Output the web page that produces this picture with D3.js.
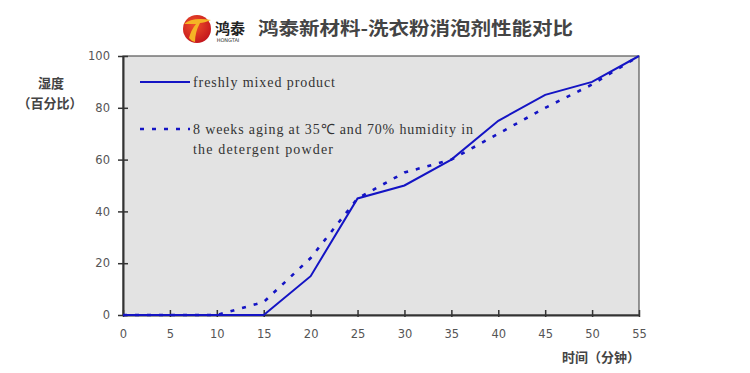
<!DOCTYPE html>
<html><head><meta charset="utf-8">
<script src="https://cdn.jsdelivr.net/npm/d3@7"></script>
<style>body{margin:0;background:#fff;}svg{display:block;}</style>
</head><body>
<svg id="c" width="750" height="373"></svg>
<script>
const title = "鸿泰新材料-洗衣粉消泡剂性能对比";
const brandName = "鸿泰";
const brandSub = "HONGTAI";
const yTitle1 = "湿度";
const yTitle2 = "（百分比）";
const xTitle = "时间（分钟）";
const xTicks = [0, 5, 10, 15, 20, 25, 30, 35, 40, 45, 50, 55];
const yTicks = [0, 20, 40, 60, 80, 100];
const times = [0, 5, 10, 15, 20, 25, 30, 35, 40, 45, 50, 55];
const freshValues = [0, 0, 0, 0, 15, 45, 50, 60, 75, 85, 90, 100];
const agedValues = [0, 0, 0, 5, 22, 45, 55, 60, 70, 80, 89, 100];
const legendFresh = ["freshly mixed product"];
const legendAged = ["8 weeks aging at 35℃ and 70% humidity in", "the detergent powder"];

const svg = d3.select("#c");
const L = 123, R = 639, T = 56, B = 315;
const x = d3.scaleLinear().domain([0, 55]).range([L, R]);
const y = d3.scaleLinear().domain([0, 100]).range([B, T]);

// plot background
svg.append("rect").attr("x", L).attr("y", T).attr("width", R - L).attr("height", B - T)
  .attr("fill", "#e3e3e3").attr("stroke", "#555").attr("stroke-width", 1.2);

// axes
const xa = svg.append("g").attr("transform", `translate(0,${B})`)
  .call(d3.axisBottom(x).tickValues(xTicks).tickSize(0).tickPadding(15));
xa.select(".domain").attr("stroke", "#333").attr("stroke-width", 2);
xa.selectAll(".tick").append("line").attr("y1", -5).attr("y2", 2).attr("stroke", "#333").attr("stroke-width", 1.5);
xa.selectAll("text").attr("font-family", "DejaVu Sans").attr("font-size", 11.5).attr("fill", "#555");

const ya = svg.append("g").attr("transform", `translate(${L},0)`)
  .call(d3.axisLeft(y).tickValues(yTicks).tickSize(0).tickPadding(13));
ya.select(".domain").attr("stroke", "#333").attr("stroke-width", 2);
ya.selectAll(".tick").append("line").attr("x1", -5).attr("x2", 5).attr("stroke", "#333").attr("stroke-width", 1.5);
ya.selectAll("text").attr("font-family", "DejaVu Sans").attr("font-size", 11.5).attr("fill", "#555");

// lines
const blue = "#1414c4";
const line = d3.line().x(d => x(d[0])).y(d => y(d[1]));
svg.append("path").datum(times.map((t, i) => [t, agedValues[i]]))
  .attr("d", line).attr("fill", "none").attr("stroke", blue).attr("stroke-width", 2.6)
  .attr("stroke-dasharray", "4,8");
svg.append("path").datum(times.map((t, i) => [t, freshValues[i]]))
  .attr("d", line).attr("fill", "none").attr("stroke", blue).attr("stroke-width", 2);

// legend
const legendFont = {family: "Liberation Serif", size: 14, color: "#333"};
svg.append("line").attr("x1", 140).attr("x2", 190).attr("y1", 82).attr("y2", 82)
  .attr("stroke", blue).attr("stroke-width", 2);
svg.append("text").attr("x", 193).attr("y", 87).text(legendFresh[0])
  .attr("font-family", legendFont.family).attr("font-size", legendFont.size).attr("fill", legendFont.color)
  .attr("textLength", 142).attr("lengthAdjust", "spacing");
svg.append("line").attr("x1", 140).attr("x2", 190).attr("y1", 129).attr("y2", 129)
  .attr("stroke", blue).attr("stroke-width", 2.6).attr("stroke-dasharray", "4,8");
const agedLens = [280, 140];
legendAged.forEach((s, i) => svg.append("text").attr("x", 193).attr("y", 134 + i * 20).text(s)
  .attr("font-family", legendFont.family).attr("font-size", legendFont.size).attr("fill", legendFont.color)
  .attr("textLength", agedLens[i]).attr("lengthAdjust", "spacing"));

// axis titles
svg.append("text").attr("x", 51).attr("y", 88).attr("text-anchor", "middle").text(yTitle1)
  .attr("font-family", "Noto Sans CJK SC").attr("font-weight", "bold").attr("font-size", 13).attr("fill", "#444");
svg.append("text").attr("x", 50).attr("y", 108).attr("text-anchor", "middle").text(yTitle2)
  .attr("font-family", "Noto Sans CJK SC").attr("font-weight", "bold").attr("font-size", 13).attr("fill", "#444");
svg.append("text").attr("x", 640).attr("y", 362).attr("text-anchor", "end").text(xTitle)
  .attr("font-family", "Noto Sans CJK SC").attr("font-weight", "bold").attr("font-size", 13).attr("fill", "#444");

// logo
const defs = svg.append("defs");
const g1 = defs.append("radialGradient").attr("id", "lg").attr("cx", "40%").attr("cy", "35%").attr("r", "70%");
g1.append("stop").attr("offset", "0%").attr("stop-color", "#f0502a");
g1.append("stop").attr("offset", "100%").attr("stop-color", "#c2141c");
svg.append("circle").attr("cx", 197).attr("cy", 29).attr("r", 14).attr("fill", "url(#lg)");
svg.append("path").attr("d", "M184,24 Q192,17 211,20 Q204,23 200,23 Q195,32 195,42 Q191,41 189,38 Q191,30 196,24 Q190,24 184,24 Z")
  .attr("fill", "#f5b325");
svg.append("text").attr("x", 215).attr("y", 34).text(brandName)
  .attr("font-family", "Noto Sans CJK SC").attr("font-weight", "bold").attr("font-size", 15).attr("fill", "#222");
svg.append("text").attr("x", 228).attr("y", 42).attr("text-anchor", "middle").text(brandSub)
  .attr("font-family", "DejaVu Sans").attr("font-size", 5).attr("fill", "#333");

// title
svg.append("text").attr("x", 258).attr("y", 35).text(title)
  .attr("font-family", "Noto Sans CJK SC").attr("font-weight", "bold").attr("font-size", 18).attr("fill", "#444")
  .attr("textLength", 315).attr("lengthAdjust", "spacingAndGlyphs");
</script>
</body></html>
